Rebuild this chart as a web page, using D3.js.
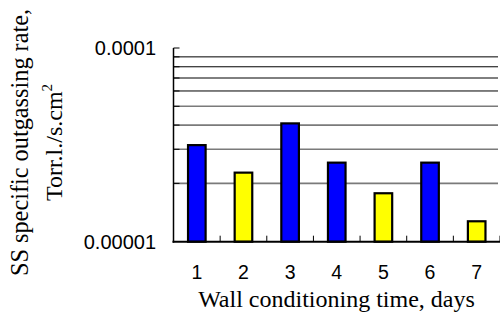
<!DOCTYPE html>
<html>
<head>
<meta charset="utf-8">
<script src="https://cdn.jsdelivr.net/npm/d3@7"></script>
<style>
html,body{margin:0;padding:0;background:#fff;}
svg{display:block;}
</style>
</head>
<body>
<svg id="chart" width="500" height="324"></svg>
<script>
const categories = ["1","2","3","4","5","6","7"];
const values = [3.19e-5, 2.30e-5, 4.13e-5, 2.59e-5, 1.80e-5, 2.59e-5, 1.29e-5];
const barColors = ["#0000ff","#ffff00","#0000ff","#0000ff","#ffff00","#0000ff","#ffff00"];
const gridValues = [2e-5,3e-5,4e-5,5e-5,6e-5,7e-5,8e-5,9e-5];
const yTickLabels = [{v:1e-4, t:"0.0001"},{v:1e-5, t:"0.00001"}];
const xTitle = "Wall conditioning time, days";
const yTitle1 = "SS specific outgassing rate,";
const yTitle2 = "Torr.l./s.cm";

(function(){
const svg = d3.select("#chart");
const pL = 173.5, pR = 500, pT = 48, pB = 241.7;
const sans = "'Liberation Sans', Arial, sans-serif";
const serif = "'Liberation Serif', 'Times New Roman', serif";

const y = d3.scaleLog().domain([1e-5, 1e-4]).range([pB, pT]);
const x = d3.scaleBand().domain(categories).range([pL, pR]).paddingInner(0.58).paddingOuter(0.29);

// gridlines
svg.append("g").selectAll("line").data(gridValues).join("line")
  .attr("x1", pL).attr("x2", pR - 2)
  .attr("y1", d => y(d)).attr("y2", d => y(d))
  .attr("stroke", d => d >= 6e-5 ? "#000" : "#7a7a7a")
  .attr("stroke-width", d => d >= 6e-5 ? 1 : 1.6);

// y axis ticks (inward)
svg.append("g").selectAll("line").data(gridValues.concat([1e-4])).join("line")
  .attr("x1", pL).attr("x2", pL + 6)
  .attr("y1", d => y(d)).attr("y2", d => y(d))
  .attr("stroke", "#000").attr("stroke-width", 1);

// bars
const bw = x.bandwidth();
svg.append("g").selectAll("rect").data(categories).join("rect")
  .attr("x", (d) => x(d) + 1)
  .attr("y", (d,i) => y(values[i]) + 1)
  .attr("width", bw - 2)
  .attr("height", (d,i) => y(1e-5) - y(values[i]) - 1)
  .attr("fill", (d,i) => barColors[i])
  .attr("stroke", "#000").attr("stroke-width", 2.2);

// y axis line
svg.append("line").attr("x1", pL).attr("x2", pL).attr("y1", pT).attr("y2", pB + 1)
  .attr("stroke", "#000").attr("stroke-width", 1.5);
// x axis line
svg.append("line").attr("x1", pL - 1).attr("x2", pR).attr("y1", pB).attr("y2", pB)
  .attr("stroke", "#000").attr("stroke-width", 2);

// x ticks at band boundaries (inward)
svg.append("g").selectAll("line").data(categories).join("line")
  .attr("x1", d => x(d) + bw/2 + x.step()/2).attr("x2", d => x(d) + bw/2 + x.step()/2)
  .attr("y1", pB - 6).attr("y2", pB)
  .attr("stroke", "#000").attr("stroke-width", 1);

// x tick labels
svg.append("g").selectAll("text").data(categories).join("text")
  .attr("x", d => x(d) + bw/2).attr("y", 279)
  .attr("text-anchor", "middle")
  .attr("font-family", sans).attr("font-size", 19.5)
  .text(d => d);

// y tick labels
svg.append("g").selectAll("text").data(yTickLabels).join("text")
  .attr("x", 156).attr("y", d => y(d.v) + 7)
  .attr("text-anchor", "end")
  .attr("font-family", sans).attr("font-size", 20)
  .text(d => d.t);

// x title
svg.append("text").attr("x", 336.5).attr("y", 307)
  .attr("text-anchor", "middle")
  .attr("font-family", serif).attr("font-size", 24)
  .text(xTitle);

// y title
const yt = svg.append("text")
  .attr("transform", "translate(28,142.5) rotate(-90)")
  .attr("text-anchor", "middle")
  .attr("font-family", serif).attr("font-size", 24.3);
yt.append("tspan").attr("x", 0).attr("y", 0).text(yTitle1);
const yt2 = svg.append("text")
  .attr("transform", "translate(62,142.5) rotate(-90)")
  .attr("text-anchor", "middle")
  .attr("font-family", serif).attr("font-size", 24);
yt2.append("tspan").text(yTitle2);
yt2.append("tspan").attr("dy", -10).attr("font-size", 15).text("2");
})();
</script>
</body>
</html>
